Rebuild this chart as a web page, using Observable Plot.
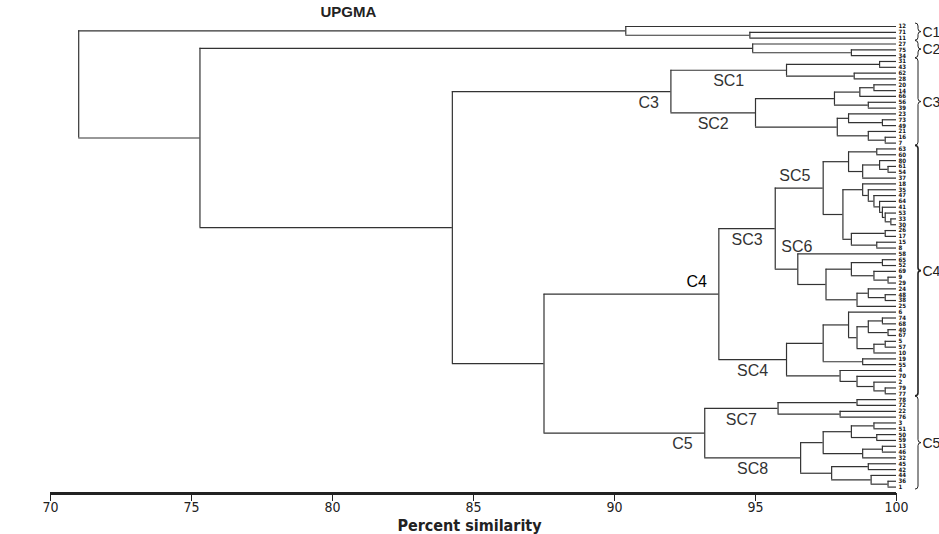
<!DOCTYPE html>
<html><head><meta charset="utf-8">
<script src="https://cdn.jsdelivr.net/npm/d3@7"></script>
<script src="https://cdn.jsdelivr.net/npm/@observablehq/plot@0.6"></script>
<style>
body{margin:0;background:#fff;}
#chart{position:relative;width:939px;height:534px;overflow:hidden;}
g[aria-label="branch-labels"] text{letter-spacing:1.5px;}
g[aria-label="title"] text{letter-spacing:1px;}
</style></head><body><div id="chart"></div>
<script>
// ---- DATA: UPGMA subtrees (leaf = isolate id, number after ")" = % similarity of the join, [name] = cluster) ----
const treeC1 = "(12,(71,11)94.8)90.4[C1]";
const treeC2 = "(27,(75,34)98.4)94.9[C2]";
const treeSC1 = "((31,43)99.4,(62,28)98.5)96.1[SC1]";
const treeSC2 = "((((20,14)99.2,66)98.7,(56,39)99.0)97.8,((23,(73,49)99.5)98.3,(21,(16,7)99.6)99.0)97.9)95.0[SC2]";
const treeSC5 = "(((63,60)99.3,((80,(61,54)99.7)99.4,37)98.8)98.3,((18,(35,(47,(64,(41,(53,(33,30)99.8)99.6)99.5)99.4)99.2)99.0)98.8,((26,17)99.6,(15,8)99.3)98.4)98.1)97.4[SC5]";
const treeSC6 = "(58,(((65,52)99.5,(69,(9,29)99.7)99.2)98.4,((24,(48,38)99.6)99.0,25)98.6)97.5)96.5[SC6]";
const treeSC4 = "(((6,(((74,68)99.5,(40,67)99.7)99.0,((5,57)99.6,10)99.2)98.6)98.3,(19,55)98.8)97.4,(4,(70,(2,(79,77)99.6)99.2)98.6)98.0)96.1[SC4]";
const treeSC7 = "((78,72)98.6,(22,76)98.0)95.8[SC7]";
const treeSC8 = "((((3,51)99.2,(50,59)99.3)98.4,((13,46)99.5,32)98.8)97.4,((45,42)99.0,(44,(36,1)99.7)99.1)97.7)96.6[SC8]";
// joins between the main groups (% similarity)
const joinC3 = 92.0, joinSC3 = 95.7, joinC4 = 93.7, joinC5 = 93.2;
const joinC4C5 = 87.5, joinC3C4C5 = 84.25, joinC2rest = 75.3, joinRoot = 71.0;
const clusterNames = ["C1", "C2", "C3", "C4", "C5"];
const xTicks = [70, 75, 80, 85, 90, 95, 100];
const labelsAbove = ["C4", "SC5", "SC6"];

// ---- build tree ----
const treeC3 = `(${treeSC1},${treeSC2})${joinC3}[C3]`;
const treeSC3 = `(${treeSC5},${treeSC6})${joinSC3}[SC3]`;
const treeC4 = `(${treeSC3},${treeSC4})${joinC4}[C4]`;
const treeC5 = `(${treeSC7},${treeSC8})${joinC5}[C5]`;
const treeAll = `(${treeC1},(${treeC2},(${treeC3},(${treeC4},${treeC5})${joinC4C5})${joinC3C4C5})${joinC2rest})${joinRoot}`;

function parse(s) {
  let i = 0;
  function node() {
    if (s[i] === "(") {
      i++;
      const kids = [node()];
      while (s[i] === ",") { i++; kids.push(node()); }
      i++;
      let num = "";
      while (i < s.length && /[0-9.]/.test(s[i])) num += s[i++];
      let name = null;
      if (s[i] === "[") { i++; name = ""; while (s[i] !== "]") name += s[i++]; i++; }
      return {h: +num, name, children: kids};
    }
    let lab = "";
    while (i < s.length && !/[,()\[\]]/.test(s[i])) lab += s[i++];
    return {label: lab, h: 100};
  }
  return node();
}
const root = parse(treeAll);

const leaves = [], vsegs = [], hsegs = [], named = [];
let k = 0;
function layout(n, parentH) {
  if (!n.children) {
    n.y = k++; n.first = n.y; n.last = n.y;
    leaves.push({x: 100, y: n.y, label: n.label});
  } else {
    n.children.forEach(c => layout(c, n.h));
    const ys = n.children.map(c => c.y);
    n.y = (ys[0] + ys[ys.length - 1]) / 2;
    n.first = n.children[0].first; n.last = n.children[n.children.length - 1].last;
    vsegs.push({x: n.h, y1: d3.min(ys), y2: d3.max(ys)});
    n.children.forEach(c => hsegs.push({y: c.y, x1: n.h, x2: c.h}));
  }
  if (n.name) named.push({name: n.name, h: n.h, y: n.y, parentH, first: n.first, last: n.last});
}
layout(root, null);
const nLeaves = leaves.length;
const yAxisPos = nLeaves - 1 + 1.1;

const inTree = named.filter(d => d.name !== "C1" && d.name !== "C2");
const isAbove = d => labelsAbove.includes(d.name);
const cLabels = inTree.filter(d => /^C/.test(d.name));
const scLabels = inTree.filter(d => /^SC/.test(d.name));
const clusters = clusterNames.map(nm => named.find(d => d.name === nm));

const ink = "#333";
const font = "'Liberation Sans', Arial, sans-serif";
const narrow = "'Liberation Sans Narrow', 'Arial Narrow', 'DejaVu Sans Condensed', sans-serif";

function braces(index, scales) {
  const ns = "http://www.w3.org/2000/svg";
  const g = document.createElementNS(ns, "g");
  const x0 = scales.x(100) + 22;
  for (const c of clusters) {
    const yt = scales.y(c.first) - 3, yb = scales.y(c.last) + 2.5, ym = (yt + yb) / 2;
    const p = document.createElementNS(ns, "path");
    p.setAttribute("d", `M${x0-3},${yt} Q${x0},${yt} ${x0},${yt+3} L${x0},${ym-3} Q${x0},${ym} ${x0+3},${ym} Q${x0},${ym} ${x0},${ym+3} L${x0},${yb-3} Q${x0},${yb} ${x0-3},${yb}`);
    p.setAttribute("fill", "none");
    p.setAttribute("stroke", "#222");
    p.setAttribute("stroke-width", c.name === "C4" ? 1.6 : 1);
    g.appendChild(p);
  }
  return g;
}

const labelOpts = {fontSize: 16, fontFamily: font, fill: "#333", ariaLabel: "branch-labels"};

const chart = Plot.plot({
  width: 939,
  height: 534,
  marginLeft: 50,
  marginRight: 43,
  marginTop: 26,
  marginBottom: 41,
  style: {fontFamily: narrow, fontSize: "14px", color: "#222", background: "#fff"},
  x: {domain: [70, 100], ticks: xTicks, tickSize: 8, tickPadding: 1, label: null},
  y: {domain: [0, yAxisPos], reverse: true, axis: null},
  marks: [
    Plot.ruleX(vsegs, {x: "x", y1: "y1", y2: "y2", stroke: ink, strokeWidth: 1.2}),
    Plot.ruleY(hsegs, {y: "y", x1: "x1", x2: "x2", stroke: ink, strokeWidth: 1.2}),
    Plot.text(leaves, {x: "x", y: "y", text: "label", dx: 2, textAnchor: "start", fontSize: 6, fontWeight: "bold", fontFamily: narrow, fill: "#111"}),
    Plot.text(cLabels.filter(isAbove), {x: "h", y: "y", text: "name", dx: -12, dy: -12, textAnchor: "end", ...labelOpts, fill: "#000"}),
    Plot.text(cLabels.filter(d => !isAbove(d)), {x: "h", y: "y", text: "name", dx: -12, dy: 11, textAnchor: "end", ...labelOpts}),
    Plot.text(scLabels.filter(d => d.name === "SC5"), {x: "parentH", y: "y", text: "name", dx: 4, dy: -12, textAnchor: "start", ...labelOpts}),
    Plot.text(scLabels.filter(d => d.name === "SC6"), {x: "parentH", y: "y", text: "name", dx: 6, dy: -22, textAnchor: "start", ...labelOpts}),
    Plot.text(scLabels.filter(d => !isAbove(d)), {x: d => (d.h + d.parentH) / 2, y: "y", text: "name", dy: 11, textAnchor: "middle", ...labelOpts}),
    braces,
    Plot.text(clusters, {x: 100, y: d => (d.first + d.last) / 2, text: "name", dx: 26, textAnchor: "start", fontSize: 14, fontFamily: font, fill: "#222"}),
    Plot.ruleY([yAxisPos], {stroke: "#222", strokeWidth: 3}),
    Plot.text(["Percent similarity"], {frameAnchor: "bottom", lineAnchor: "middle", dx: -4, dy: 32, fontSize: 16, fontWeight: "bold", fontFamily: narrow, fill: "#222"}),
    Plot.text(["UPGMA"], {frameAnchor: "top-left", lineAnchor: "middle", dx: 270, dy: -14, fontSize: 15, fontWeight: "bold", fontFamily: font, fill: "#222", ariaLabel: "title"})
  ]
});
document.getElementById("chart").appendChild(chart);
</script></body></html>
